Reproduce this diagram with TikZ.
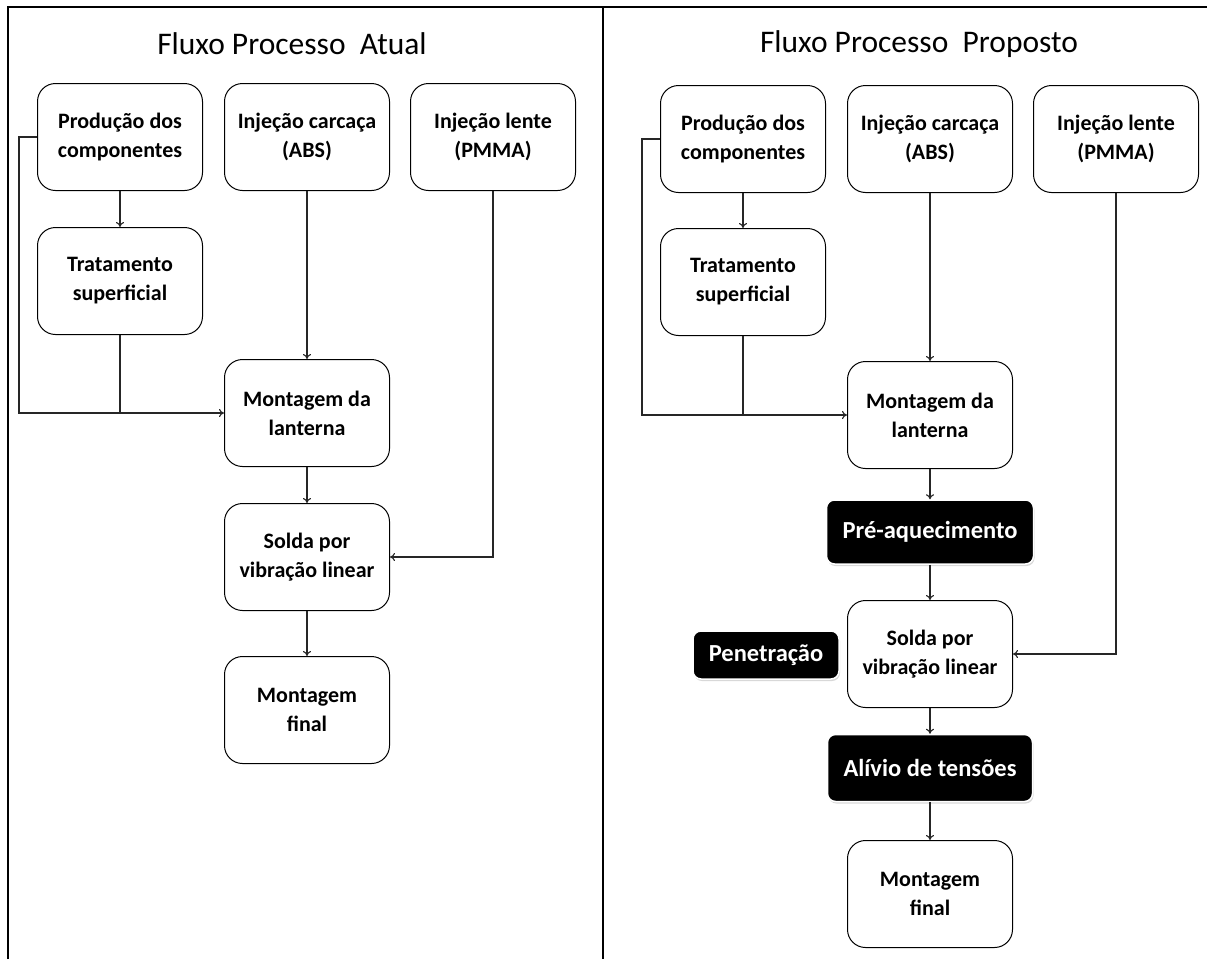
\documentclass[tikz,border=0pt]{standalone}
\usepackage{fontspec}
\setmainfont{Carlito}
\usetikzlibrary{positioning,shadows,arrows.meta}

\tikzset{
  >={To[length=5pt,width=8pt]},
  etapa/.style={draw, line width=1pt, rounded corners=18pt, fill=white,
    minimum width=165pt, minimum height=107pt, align=center,
    font=\fontsize{22}{29}\selectfont\bfseries},
  novaetapa/.style={draw=white, line width=1.5pt, rounded corners=8pt,
    fill=black, text=white, align=center, inner sep=0pt,
    font=\fontsize{24.5}{29}\selectfont\bfseries,
    drop shadow={shadow xshift=1pt, shadow yshift=-2pt, fill=black!30}},
  titulo/.style={font=\fontsize{31.5}{36}\selectfont},
  seta/.style={->, line width=1.1pt, black!85}
}

\begin{document}
\begin{tikzpicture}[x=1pt,y=-1pt]
    \useasboundingbox (0,0) rectangle (1207,959);
    % Moldura e divisao
    \draw[line width=1.5pt] (8,959) -- (8,7) -- (1207,7);
    \draw[line width=1.2pt] (603,7) -- (603,959);
    % Titulos
    \node[titulo] (tatual) at (292,44) {Fluxo Processo\ \ Atual};
    \node[titulo] (tproposto) at (919,44) {Fluxo Processo\ \ Proposto};

    % Fluxo atual
    \node[etapa] (prodA) at (120,137) {Produção dos\\componentes};
    \node[etapa] (injcA) at (307,137) {Injeção carcaça\\(ABS)};
    \node[etapa] (injlA) at (493,137) {Injeção lente\\(PMMA)};
    \node[etapa] (tratA) at (120,281) {Tratamento\\superficial};
    \node[etapa] (montA) at (307,413) {Montagem da\\lanterna};
    \node[etapa] (soldaA) at (307,557) {Solda por\\vibração linear};
    \node[etapa] (finalA) at (307,710) {Montagem\\final};

    \draw[seta] (prodA) -- (tratA);
    \draw[seta] (prodA.west) -- ++(-18,0) |- (montA.west);
    \draw[line width=1.1pt, black!85] (tratA.south) -- (tratA.south |- montA.west);
    \draw[seta] (injcA) -- (montA);
    \draw[seta] (montA) -- (soldaA);
    \draw[seta] (injlA.south) |- (soldaA.east);
    \draw[seta] (soldaA) -- (finalA);

    % Fluxo proposto
    \node[etapa] (prodB) at (743,139) {Produção dos\\componentes};
    \node[etapa] (injcB) at (930,139) {Injeção carcaça\\(ABS)};
    \node[etapa] (injlB) at (1116,139) {Injeção lente\\(PMMA)};
    \node[etapa] (tratB) at (743,282) {Tratamento\\superficial};
    \node[etapa] (montB) at (930,415) {Montagem da\\lanterna};
    \node[novaetapa, minimum width=207pt, minimum height=64pt] (preB) at (930,532) {Pré-aquecimento};
    \node[etapa] (soldaB) at (930,654) {Solda por\\vibração linear};
    \node[novaetapa, minimum width=146pt, minimum height=48pt] (penB) at (766,655) {Penetração};
    \node[novaetapa, minimum width=205pt, minimum height=67pt] (alivB) at (930,768) {Alívio de tensões};
    \node[etapa] (finalB) at (930,894) {Montagem\\final};

    \draw[seta] (prodB) -- (tratB);
    \draw[seta] (prodB.west) -- ++(-18,0) |- (montB.west);
    \draw[line width=1.1pt, black!85] (tratB.south) -- (tratB.south |- montB.west);
    \draw[seta] (injcB) -- (montB);
    \draw[seta] (montB) -- (preB);
    \draw[seta] (preB) -- (soldaB);
    \draw[seta] (injlB.south) |- (soldaB.east);
    \draw[seta] (soldaB) -- (alivB);
    \draw[seta] (alivB) -- (finalB);
\end{tikzpicture}
\end{document}
